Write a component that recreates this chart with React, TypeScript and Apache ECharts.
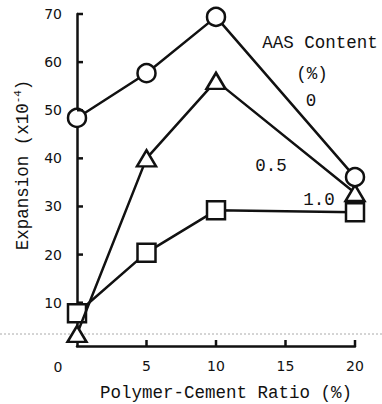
import React, { useEffect, useRef } from 'react';
import * as echarts from 'echarts';

// Polymer-cement ratio (%) on the x axis
const ratios = [0, 5, 10, 20];
// AAS content (%) for each curve
const aasContents = ['0', '0.5', '1.0'];
// Expansion (x10^-4)
const expansionAas0 = [48.4, 57.7, 69.4, 36.1];
const expansionAas05 = [3.5, 40.0, 56.1, 32.8];
const expansionAas10 = [7.8, 20.4, 29.2, 28.8];
const yTickValues = [10, 20, 30, 40, 50, 60, 70];
const xTickValues = [5, 10, 15, 20];
const originLabel = '0';
const yMin = 1;
const yMax = 70;

const MONO = "'Liberation Mono', 'DejaVu Sans Mono', monospace";
const SANS = "'DejaVu Sans', sans-serif";
const INK = '#111';

export default function App() {
  const ref = useRef<HTMLDivElement>(null);

  useEffect(() => {
    if (!ref.current) return;
    const chart = echarts.init(ref.current, undefined, { renderer: 'svg' });

    const seriesData = [expansionAas10, expansionAas05, expansionAas0];
    const names = [aasContents[2], aasContents[1], aasContents[0]];
    const symbols = ['rect', 'triangle', 'circle'];
    const sizes: any[] = [18, [19, 16], 18];

    const series: any[] = seriesData.map((vals, i) => ({
      type: 'line',
      name: names[i],
      data: ratios.map((x, j) => [x, vals[j]]),
      symbol: symbols[i],
      symbolSize: sizes[i],
      showAllSymbol: true,
      z: 3 + i,
      lineStyle: { color: INK, width: 2.5 },
      itemStyle: { color: '#fff', borderColor: INK, borderWidth: 2.5 },
    }));

    // inward tick marks, positioned through the axes' own scales
    series.push({
      type: 'custom',
      silent: true,
      clip: false,
      z: 10,
      data: [
        ...yTickValues.map((v) => [0, v, 0]),
        ...xTickValues.map((v) => [v, yMin, 1]),
      ],
      renderItem: (_params: any, api: any) => {
        const p = api.coord([api.value(0), api.value(1)]);
        const isX = api.value(2) === 1;
        return {
          type: 'rect',
          shape: isX
            ? { x: p[0] - 1.25, y: p[1] - 6, width: 2.5, height: 6 }
            : { x: p[0], y: p[1] - 1.25, width: 6, height: 2.5 },
          style: { fill: INK },
        };
      },
    });

    chart.setOption({
      animation: false,
      backgroundColor: '#fff',
      grid: { left: 77, right: 27, top: 14, bottom: 58, containLabel: false },
      xAxis: {
        type: 'value',
        min: 0,
        max: 20,
        interval: 5,
        axisLine: { show: true, onZero: false, lineStyle: { color: INK, width: 2.5 } },
        axisTick: { show: false },
        splitLine: { show: false },
        axisLabel: {
          show: true,
          showMinLabel: true,
          showMaxLabel: true,
          color: INK,
          fontFamily: SANS,
          fontSize: 14,
          margin: 13,
          formatter: (v: number) => (v === 0 ? '' : String(v)),
        },
      },
      yAxis: {
        type: 'value',
        min: yMin,
        max: yMax,
        axisLine: { show: true, onZero: false, lineStyle: { color: INK, width: 2.5 } },
        axisTick: { show: false },
        splitLine: { show: false },
        axisLabel: {
          color: INK,
          fontFamily: SANS,
          fontSize: 14,
          margin: 15,
          customValues: yTickValues,
        },
      },
      graphic: [
        {
          type: 'line',
          z: 0,
          shape: { x1: 0, y1: 334, x2: 382, y2: 334 },
          style: { stroke: '#aaa', lineWidth: 1, lineDash: [2, 2] },
        },
        {
          type: 'text',
          x: 58,
          y: 367,
          style: { text: originLabel, fontFamily: SANS, fontSize: 14, fill: INK, align: 'center', verticalAlign: 'middle' },
        },
        {
          type: 'text',
          x: 23,
          y: 165,
          rotation: Math.PI / 2,
          style: {
            text: '{a|Expansion (x10}{s|-4}{a|)}',
            align: 'center',
            verticalAlign: 'middle',
            fill: INK,
            rich: {
              a: { fontFamily: MONO, fontSize: 17.5, fill: INK, lineHeight: 22 },
              s: { fontFamily: MONO, fontSize: 11, fill: INK, verticalAlign: 'top' },
            },
          },
        },
        {
          type: 'text',
          x: 226,
          y: 393,
          style: { text: 'Polymer-Cement Ratio (%)', fontFamily: MONO, fontSize: 17.5, fill: INK, align: 'center', verticalAlign: 'middle' },
        },
        {
          type: 'text',
          x: 320,
          y: 43,
          style: { text: 'AAS Content', fontFamily: MONO, fontSize: 17.5, fill: INK, align: 'center', verticalAlign: 'middle' },
        },
        {
          type: 'text',
          x: 312,
          y: 74,
          style: { text: '(%)', fontFamily: MONO, fontSize: 17.5, fill: INK, align: 'center', verticalAlign: 'middle' },
        },
        {
          type: 'text',
          x: 311,
          y: 101,
          style: { text: aasContents[0], fontFamily: MONO, fontSize: 17.5, fill: INK, align: 'center', verticalAlign: 'middle' },
        },
        {
          type: 'text',
          x: 271,
          y: 166,
          style: { text: aasContents[1], fontFamily: MONO, fontSize: 17.5, fill: INK, align: 'center', verticalAlign: 'middle' },
        },
        {
          type: 'text',
          x: 319,
          y: 200,
          style: { text: aasContents[2], fontFamily: MONO, fontSize: 17.5, fill: INK, align: 'center', verticalAlign: 'middle' },
        },
      ],
      series,
    });

    return () => chart.dispose();
  }, []);

  return <div ref={ref} style={{ width: 382, height: 404, position: 'absolute', left: 0, top: 0 }} />;
}
